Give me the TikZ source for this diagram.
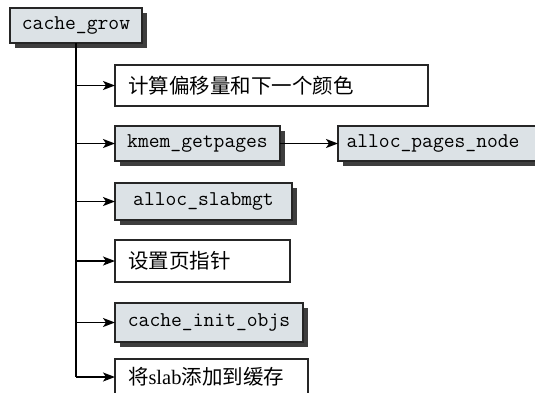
\documentclass[tikz,border=0pt]{standalone}
\usepackage{fontspec}
\setmainfont{Liberation Serif}
\setmonofont{Latin Modern Mono}
\newfontfamily\cjk{Noto Sans CJK SC}
\usetikzlibrary{arrows.meta,shadows}
\definecolor{boxfill}{RGB}{220,226,230}
\definecolor{shadowc}{RGB}{62,62,62}
\tikzset{
  base/.style={draw=black!85, line width=1.2pt, anchor=north west, inner sep=0pt, outer sep=0pt},
  fbox/.style={base, fill=boxfill, font=\fontsize{21}{22}\selectfont\ttfamily, align=center,
    drop shadow={shadow xshift=5pt, shadow yshift=-5pt, fill=shadowc, opacity=1}},
  cbox/.style={base, fill=white, font=\fontsize{20.5}{22}\selectfont\cjk, align=left, inner xsep=13pt},
  arr/.style={line width=1.6pt, -{Stealth[length=12pt,width=9pt,inset=3pt]}},
  line/.style={line width=1.6pt},
}
\begin{document}
\begin{tikzpicture}[x=1pt,y=-1pt]
\useasboundingbox (0,0) rectangle (535,392);
\clip (0,0) rectangle (535,392);
\node[fbox, minimum width=132pt, minimum height=35pt] (grow) at (10,8) {cache\_grow};
\node[cbox, minimum width=313pt, minimum height=41pt, text width=287pt] (b1) at (115,65) {计算偏移量和下一个颜色};
\node[fbox, minimum width=165pt, minimum height=35pt] (b2) at (115,126) {kmem\_getpages};
\node[fbox, minimum width=205pt, minimum height=35pt, text width=205pt, align=left] (b2b) at (338,126) {\hspace{8.5pt}alloc\_pages\_node};
\node[fbox, minimum width=177pt, minimum height=37pt] (b3) at (115,183) {alloc\_slabmgt};
\node[cbox, minimum width=175pt, minimum height=42pt, text width=149pt] (b4) at (115,240) {设置页指针};
\node[fbox, minimum width=188pt, minimum height=39pt] (b5) at (115,303) {cache\_init\_objs};
\node[cbox, minimum width=193pt, minimum height=36pt, text width=167pt] (b6) at (115,359) {将{\rmfamily slab}添加到缓存};
\draw[line] (grow.south) -- (grow.south |- b6.west);
\foreach \b in {b1,b2,b3,b4,b5,b6} {
  \draw[arr] (grow.south |- \b.west) -- (\b.west);
}
\draw[arr] (b2.east) -- (b2b.west);
\end{tikzpicture}
\end{document}
